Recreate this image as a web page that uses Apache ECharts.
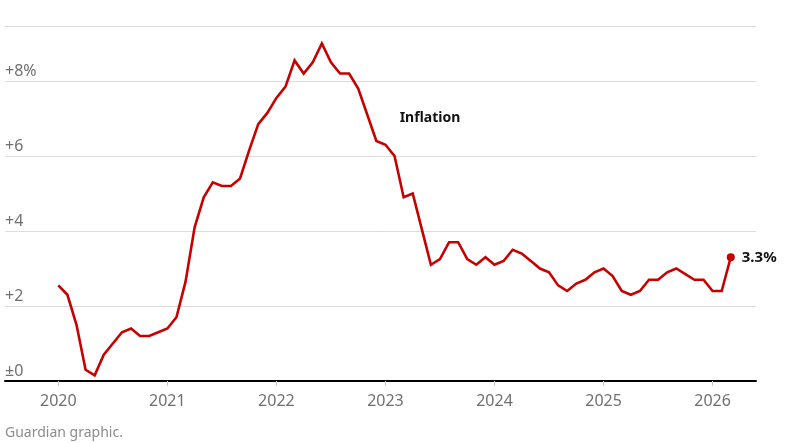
<!DOCTYPE html>
<html>
<head>
<meta charset="utf-8">
<script src="https://cdn.jsdelivr.net/npm/echarts@6/dist/echarts.min.js"></script>
<style>
html,body{margin:0;padding:0;background:#fff;}
#chart{width:785px;height:443px;}
</style>
</head>
<body>
<div id="chart"></div>
<script>
// Monthly year-on-year inflation, %, January to December of each year
const startYear = 2020;
const infl2020 = [2.55, 2.3, 1.5, 0.3, 0.15, 0.7, 1.0, 1.3, 1.4, 1.2, 1.2, 1.3];
const infl2021 = [1.4, 1.7, 2.65, 4.1, 4.9, 5.3, 5.2, 5.2, 5.4, 6.15, 6.85, 7.15];
const infl2022 = [7.55, 7.85, 8.55, 8.2, 8.5, 9.0, 8.5, 8.2, 8.2, 7.8, 7.1, 6.4];
const infl2023 = [6.3, 6.0, 4.9, 5.0, 4.05, 3.1, 3.25, 3.7, 3.7, 3.25, 3.1, 3.3];
const infl2024 = [3.1, 3.2, 3.5, 3.4, 3.2, 3.0, 2.9, 2.55, 2.4, 2.6, 2.7, 2.9];
const infl2025 = [3.0, 2.8, 2.4, 2.3, 2.4, 2.7, 2.7, 2.9, 3.0, 2.85, 2.7, 2.7];
const infl2026 = [2.4, 2.4, 3.3];
const yearTicks = [2020, 2021, 2022, 2023, 2024, 2025, 2026];
const yTicks = [0, 2, 4, 6, 8];
const seriesName = 'Inflation';
const sourceNote = 'Guardian graphic.';

const years = [infl2020, infl2021, infl2022, infl2023, infl2024, infl2025, infl2026];
const data = [];
years.forEach((arr, yi) => {
  arr.forEach((v, m) => data.push([startYear + yi + m / 12, v]));
});
const last = data[data.length - 1];

const FONT = 'Noto Sans';
const xMin = 2019.511, xMax = 2026.398;
const yMax = 9.467;

const chart = echarts.init(document.getElementById('chart'), null, {renderer: 'canvas'});
chart.setOption({
  animation: false,
  backgroundColor: '#ffffff',
  textStyle: {fontFamily: FONT},
  grid: {left: 5, right: 29, top: 26, bottom: 62, containLabel: false},
  xAxis: [{
    type: 'value', min: xMin, max: xMax,
    axisLine: {show: true, lineStyle: {color: '#000000', width: 2}},
    axisTick: {show: true, customValues: yearTicks, length: 5, lineStyle: {color: '#cccccc', width: 1}},
    axisLabel: {show: true, customValues: yearTicks, color: '#707070', fontSize: 16, fontFamily: FONT, margin: 12,
      formatter: v => String(Math.round(v))},
    splitLine: {show: false}
  }, {
    type: 'value', min: xMin, max: xMax, position: 'top',
    axisLine: {show: true, lineStyle: {color: '#dcdcdc', width: 1}},
    axisTick: {show: false}, axisLabel: {show: false}, splitLine: {show: false}
  }],
  yAxis: {
    type: 'value', min: 0, max: yMax, interval: 2,
    axisLine: {show: false}, axisTick: {show: false},
    splitLine: {show: true, lineStyle: {color: '#dcdcdc', width: 1}},
    axisLabel: {
      inside: true, margin: 0, align: 'left', verticalAlign: 'bottom',
      padding: [0, 0, 2, 0], color: '#707070', fontSize: 16, fontFamily: FONT,
      customValues: yTicks,
      formatter: v => v === 0 ? '±0' : (v === 8 ? '+8%' : '+' + v)
    }
  },
  series: [{
    name: seriesName,
    type: 'line',
    data: data,
    showSymbol: false,
    symbol: 'none',
    lineStyle: {color: '#c70000', width: 2.6, join: 'miter'},
    z: 5,
    markPoint: {
      symbol: 'circle', symbolSize: 0,
      data: [{coord: [2023.13, 7.0], value: seriesName}],
      label: {show: true, position: 'right', distance: 0, formatter: seriesName,
        color: '#121212', fontSize: 14, fontWeight: 'bold', fontFamily: FONT}
    }
  }, {
    type: 'scatter',
    data: [last],
    symbol: 'circle', symbolSize: 8,
    itemStyle: {color: '#c70000', opacity: 1},
    z: 6,
    label: {show: true, position: 'right', distance: 7,
      formatter: p => p.value[1].toFixed(1) + '%',
      color: '#121212', fontSize: 15, fontWeight: 'bold', fontFamily: FONT}
  }],
  graphic: [{
    type: 'text', left: 5, top: 426,
    style: {text: sourceNote, fill: '#8c8c8c', fontSize: 14, fontFamily: FONT}
  }]
});
</script>
</body>
</html>
